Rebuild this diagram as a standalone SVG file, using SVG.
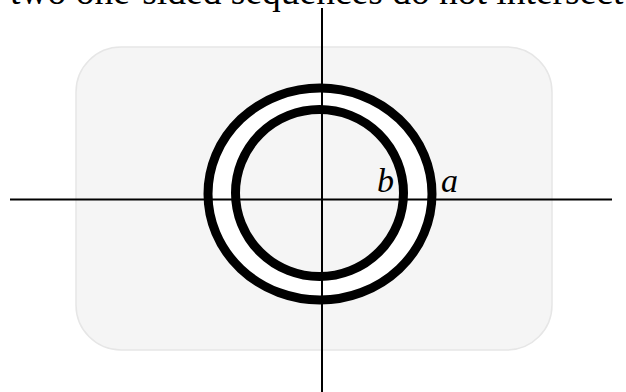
<svg xmlns="http://www.w3.org/2000/svg" width="626" height="392" viewBox="0 0 626 392">
  <style>
    .ring { stroke: #000; stroke-width: 9; }
    .axis { stroke: #000; stroke-width: 2; fill: none; }
    .lbl { font-family: "Liberation Serif", "Times New Roman", serif; font-style: italic; font-size: 34px; fill: #000; }
    .title { font-family: "Liberation Serif", "Times New Roman", serif; font-size: 37.5px; fill: #000; }
  </style>
  <g id="title">
    <text class="title" x="10" y="4">two one-sided sequences do not intersect</text>
  </g>
  <g id="panel">
    <rect x="76" y="47" width="476" height="303" rx="45" ry="45" fill="#f5f5f5" stroke="#e6e6e6" stroke-width="1.5"/>
  </g>
  <g id="ring-a">
    <ellipse class="ring" cx="320" cy="194" rx="112" ry="106" fill="#ffffff"/>
  </g>
  <g id="ring-b">
    <ellipse class="ring" cx="319.5" cy="193" rx="84" ry="83.5" fill="#f5f5f5"/>
  </g>
  <g id="connectors">
    <line class="axis" x1="10" y1="199.5" x2="612" y2="199.5"/>
    <line class="axis" x1="322" y1="8" x2="322" y2="392"/>
  </g>
  <g id="labels">
    <text class="lbl" x="377" y="192">b</text>
    <text class="lbl" x="441" y="192">a</text>
  </g>
</svg>
